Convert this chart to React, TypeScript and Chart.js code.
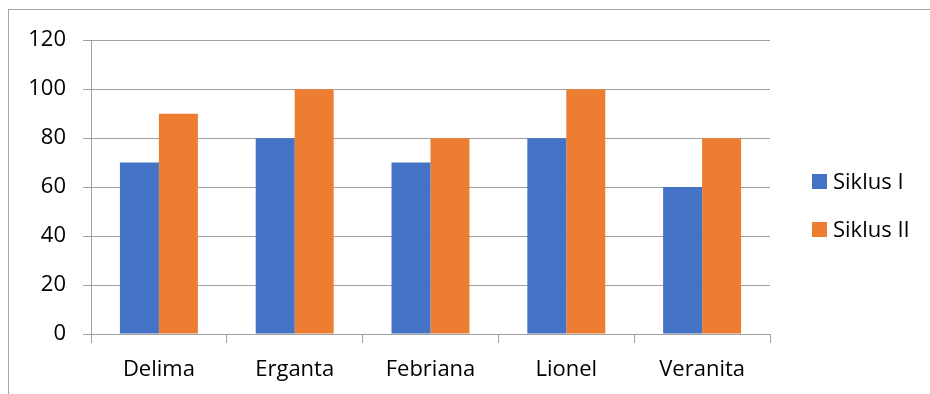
import React, { useEffect, useRef } from "react";
import { Chart, registerables } from "chart.js";

Chart.register(...registerables);

const categories = ["Delima", "Erganta", "Febriana", "Lionel", "Veranita"];
const siklusI = [70, 80, 70, 80, 60];
const siklusII = [90, 100, 80, 100, 80];
const seriesNames = ["Siklus I", "Siklus II"];
const colors = ["#4472C4", "#ED7D31"];

const FONT = "'Open Sans', 'Noto Sans', sans-serif";
const GRID = "#a0a0a0";

const legendPlugin = {
  id: "customLegend",
  afterDraw(chart: any) {
    const ctx = chart.ctx as CanvasRenderingContext2D;
    const area = chart.chartArea;
    const x0 = area.right + 42;
    const startY = 171.5;
    const step = 48;
    ctx.save();
    ctx.font = `22px ${FONT}`;
    ctx.textBaseline = "middle";
    ctx.textAlign = "left";
    chart.data.datasets.forEach((ds: any, i: number) => {
      const cy = startY + i * step;
      ctx.fillStyle = ds.backgroundColor;
      ctx.fillRect(x0, cy - 7.5, 15, 15);
      ctx.fillStyle = "#000";
      ctx.fillText(ds.label, x0 + 21, cy + 1);
    });
    ctx.restore();
  },
};

export default function App() {
  const ref = useRef<HTMLCanvasElement | null>(null);
  useEffect(() => {
    if (!ref.current) return;
    const chart = new Chart(ref.current, {
      type: "bar",
      data: {
        labels: categories,
        datasets: [
          { label: seriesNames[0], data: siklusI, backgroundColor: colors[0] },
          { label: seriesNames[1], data: siklusII, backgroundColor: colors[1] },
        ],
      },
      options: {
        animation: false,
        responsive: false,
        maintainAspectRatio: false,
        layout: { padding: { top: 29, right: 160, left: 0, bottom: 0 } },
        datasets: { bar: { barPercentage: 1, categoryPercentage: 0.574 } },
        plugins: { legend: { display: false }, tooltip: { enabled: false } },
        scales: {
          x: {
            offset: true,
            grid: { display: true, drawOnChartArea: false, drawTicks: true, tickLength: 9, color: GRID, offset: true },
            border: { display: true, color: GRID },
            ticks: { color: "#000", font: { family: FONT, size: 22 }, padding: 14 },
            afterFit: (s: any) => { s.height = 60; },
          },
          y: {
            min: 0,
            max: 120,
            grid: { color: GRID, tickLength: 8, drawTicks: true },
            border: { display: true, color: GRID },
            ticks: { stepSize: 20, color: "#000", font: { family: FONT, size: 22 }, padding: 17 },
            afterFit: (s: any) => { s.width = 82; },
          },
        },
      },
      plugins: [legendPlugin],
    });
    return () => chart.destroy();
  }, []);
  return (
    <div style={{ position: "fixed", left: 0, top: 0, width: 930, height: 394, overflow: "hidden", background: "#fff" }}>
      <div
        style={{
          position: "absolute",
          left: 8,
          top: 9,
          width: 1000,
          height: 1000,
          borderLeft: "1px solid #a6a6a6",
          borderTop: "1px solid #a6a6a6",
        }}
      >
        <canvas ref={ref} width={921} height={384} style={{ display: "block", position: "absolute", left: 0, top: 0 }} />
      </div>
    </div>
  );
}
